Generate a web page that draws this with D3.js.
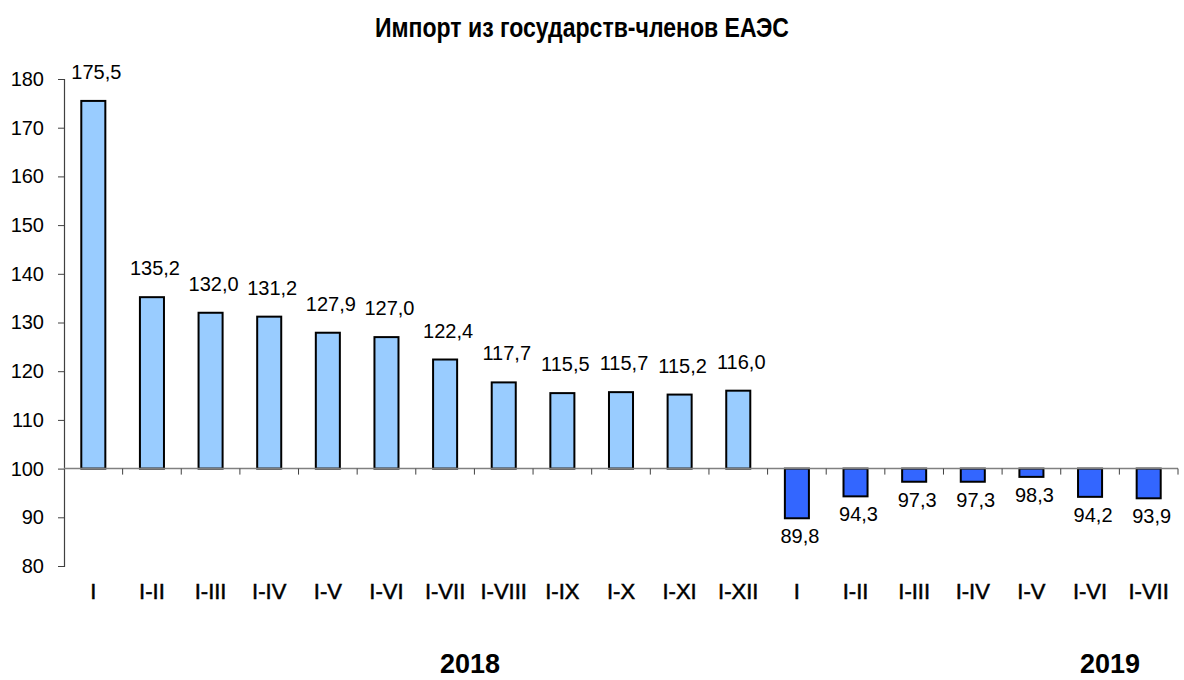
<!DOCTYPE html>
<html>
<head>
<meta charset="utf-8">
<script src="https://cdnjs.cloudflare.com/ajax/libs/d3/7.8.5/d3.min.js"></script>
<style>
  body { margin: 0; background: #fff; }
  svg { display: block; }
</style>
</head>
<body>
<div id="chart"></div>
<script>
// Periods (cumulative months), values in % to the same period of the previous year
const periods2018 = ["I", "I-II", "I-III", "I-IV", "I-V", "I-VI", "I-VII", "I-VIII", "I-IX", "I-X", "I-XI", "I-XII"];
const values2018 = [175.5, 135.2, 132.0, 131.2, 127.9, 127.0, 122.4, 117.7, 115.5, 115.7, 115.2, 116.0];
const periods2019 = ["I", "I-II", "I-III", "I-IV", "I-V", "I-VI", "I-VII"];
const values2019 = [89.8, 94.3, 97.3, 97.3, 98.3, 94.2, 93.9];
const yTicks = [80, 90, 100, 110, 120, 130, 140, 150, 160, 170, 180];
const title = "Импорт из государств-членов ЕАЭС";
const baseValue = 100;

const data = [
  ...periods2018.map((p, i) => ({key: "2018-" + p, label: p, value: values2018[i], year: "2018"})),
  ...periods2019.map((p, i) => ({key: "2019-" + p, label: p, value: values2019[i], year: "2019"}))
];

const W = 1184, H = 680;
const plotLeft = 64, plotRight = 1178, plotTop = 79, plotBottom = 566;

const svg = d3.select("#chart").append("svg")
  .attr("width", W).attr("height", H);

const x = d3.scaleBand()
  .domain(data.map(d => d.key))
  .range([plotLeft, plotRight])
  .padding(0);

const y = d3.scaleLinear()
  .domain([80, 180])
  .range([plotBottom, plotTop]);

const color = d3.scaleOrdinal()
  .domain(["2018", "2019"])
  .range(["#99CCFF", "#3366FF"]);

// Title (condensed look via textLength)
svg.append("text")
  .attr("x", 375).attr("y", 37)
  .attr("textLength", 414)
  .attr("lengthAdjust", "spacingAndGlyphs")
  .style("font-family", "'Liberation Sans', sans-serif")
  .style("font-weight", "bold")
  .style("font-size", "28px")
  .text(title);

// Y axis
const yAxis = svg.append("g")
  .attr("transform", `translate(${plotLeft},0)`)
  .call(d3.axisLeft(y).tickValues(yTicks).tickSize(6).tickPadding(14).tickFormat(d3.format("d")));
yAxis.select(".domain").attr("stroke", "#404040").attr("stroke-width", 1.2);
yAxis.selectAll(".tick line").attr("stroke", "#404040");
yAxis.selectAll("text")
  .style("font-family", "'Liberation Sans', Arial, sans-serif")
  .style("font-size", "20px")
  .attr("fill", "#000");

// Bars from the 100 baseline
const barW = x.bandwidth() * 0.41;
svg.append("g").selectAll("rect")
  .data(data)
  .join("rect")
  .attr("x", d => x(d.key) + (x.bandwidth() - barW) / 2)
  .attr("y", d => y(Math.max(d.value, baseValue)))
  .attr("width", barW)
  .attr("height", d => Math.abs(y(d.value) - y(baseValue)))
  .attr("fill", d => color(d.year))
  .attr("stroke", "#000")
  .attr("stroke-width", 2);

// X axis at baseline 100
const xg = svg.append("g");
xg.append("line")
  .attr("x1", plotLeft).attr("x2", plotRight)
  .attr("y1", y(baseValue)).attr("y2", y(baseValue))
  .attr("stroke", "#808080").attr("stroke-width", 1.5);
const boundaries = data.slice(1).map(d => x(d.key)).concat([plotRight]);
xg.selectAll("line.tk")
  .data(boundaries)
  .join("line")
  .attr("class", "tk")
  .attr("x1", d => d).attr("x2", d => d)
  .attr("y1", y(baseValue)).attr("y2", y(baseValue) + 6)
  .attr("stroke", "#404040");

// Category labels
svg.append("g").selectAll("text")
  .data(data)
  .join("text")
  .attr("x", d => x(d.key) + x.bandwidth() / 2)
  .attr("y", 599)
  .attr("text-anchor", "middle")
  .style("font-family", "'Liberation Sans', Arial, sans-serif")
  .style("font-size", "22px")
  .attr("stroke", "#000")
  .attr("stroke-width", 0.5)
  .text(d => d.label);

// Value labels
const fmt = v => d3.format(".1f")(v).replace(".", ",");
svg.append("g").selectAll("text")
  .data(data)
  .join("text")
  .attr("x", d => x(d.key) + x.bandwidth() / 2 + 3)
  .attr("y", d => d.value >= baseValue ? y(d.value) - 22 : y(d.value) + 25)
  .attr("text-anchor", "middle")
  .style("font-family", "'Liberation Sans', Arial, sans-serif")
  .style("font-size", "20px")
  .text(d => fmt(d.value));

// Year labels
const years = [{label: "2018", x: 470}, {label: "2019", x: 1110}];
svg.append("g").selectAll("text")
  .data(years)
  .join("text")
  .attr("x", d => d.x)
  .attr("y", 673)
  .attr("text-anchor", "middle")
  .style("font-family", "'Liberation Sans', Arial, sans-serif")
  .style("font-weight", "bold")
  .style("font-size", "27px")
  .text(d => d.label);
</script>
</body>
</html>
